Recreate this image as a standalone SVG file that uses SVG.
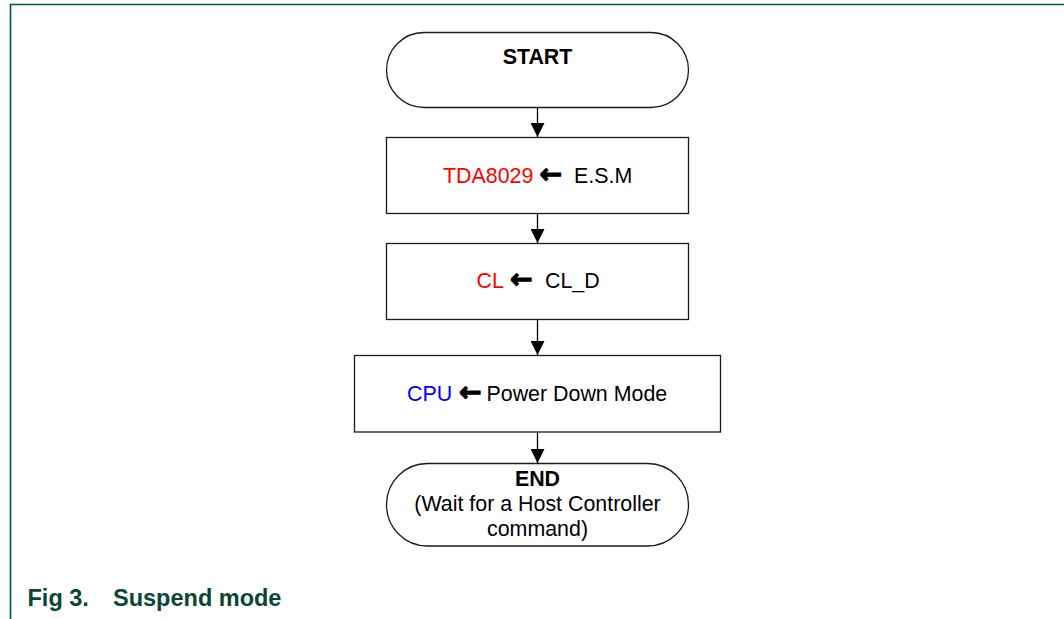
<svg xmlns="http://www.w3.org/2000/svg" width="1064" height="619" viewBox="0 0 1064 619">
<style>
.shape{fill:#fff;stroke:#1a1a1a;stroke-width:1.3}
.t{font-family:"Liberation Sans",Arial,sans-serif;font-size:21.4px;fill:#000}
.b{font-weight:bold}
.red{fill:#ff0000}
.blue{fill:#0000ff}
.arr{font-family:"DejaVu Sans",sans-serif;font-size:27px;font-weight:bold;stroke:#000;stroke-width:1.1}
.conn{stroke:#000;stroke-width:1.3;fill:none}
.cap{font-family:"Liberation Sans",Arial,sans-serif;font-size:23.5px;font-weight:bold;fill:#0b4535}
</style>
<defs>
<marker id="ah" markerUnits="userSpaceOnUse" markerWidth="14" markerHeight="14" refX="14" refY="7" orient="auto">
<path d="M0,0 L14,7 L0,14 Z" fill="#000"/>
</marker>
</defs>
<rect width="1064" height="619" fill="#fff"/>
<g id="frame">
<path d="M10.5,619 L10.5,4.5 L1064,4.5" fill="none" stroke="#00573d" stroke-width="1.6"/>
</g>
<g id="connectors">
<line class="conn" x1="537.5" y1="108" x2="537.5" y2="137" marker-end="url(#ah)"/>
<line class="conn" x1="537.5" y1="213" x2="537.5" y2="243" marker-end="url(#ah)"/>
<line class="conn" x1="537.5" y1="319" x2="537.5" y2="355" marker-end="url(#ah)"/>
<line class="conn" x1="537.5" y1="432" x2="537.5" y2="463" marker-end="url(#ah)"/>
</g>
<g id="start">
<rect class="shape" x="386.5" y="32.5" width="302" height="75" rx="37.5" ry="37.5"/>
<text class="t b" x="537.5" y="64" text-anchor="middle">START</text>
</g>
<g id="step1">
<rect class="shape" x="386.5" y="137.5" width="302" height="76"/>
<text class="t" y="182.5"><tspan class="red" x="443">TDA8029</tspan><tspan class="arr" x="539.5">←</tspan><tspan x="574">E.S.M</tspan></text>
</g>
<g id="step2">
<rect class="shape" x="386.5" y="243.5" width="302" height="76"/>
<text class="t" y="287.5"><tspan class="red" x="476.5">CL</tspan><tspan class="arr" x="510">←</tspan><tspan x="545">CL_D</tspan></text>
</g>
<g id="step3">
<rect class="shape" x="354.5" y="355.5" width="366" height="76.5"/>
<text class="t" y="400.5"><tspan class="blue" x="407">CPU</tspan><tspan class="arr" x="459">←</tspan><tspan x="486.5">Power Down Mode</tspan></text>
</g>
<g id="end">
<rect class="shape" x="386.5" y="463.5" width="302" height="82.5" rx="41" ry="41"/>
<text class="t b" x="537.5" y="485.5" text-anchor="middle">END</text>
<text class="t" x="537.5" y="511" text-anchor="middle">(Wait for a Host Controller</text>
<text class="t" x="537.5" y="536" text-anchor="middle">command)</text>
</g>
<g id="caption">
<text class="cap" x="27.5" y="605.5">Fig 3.</text>
<text class="cap" x="113" y="605.5">Suspend mode</text>
</g>
</svg>
